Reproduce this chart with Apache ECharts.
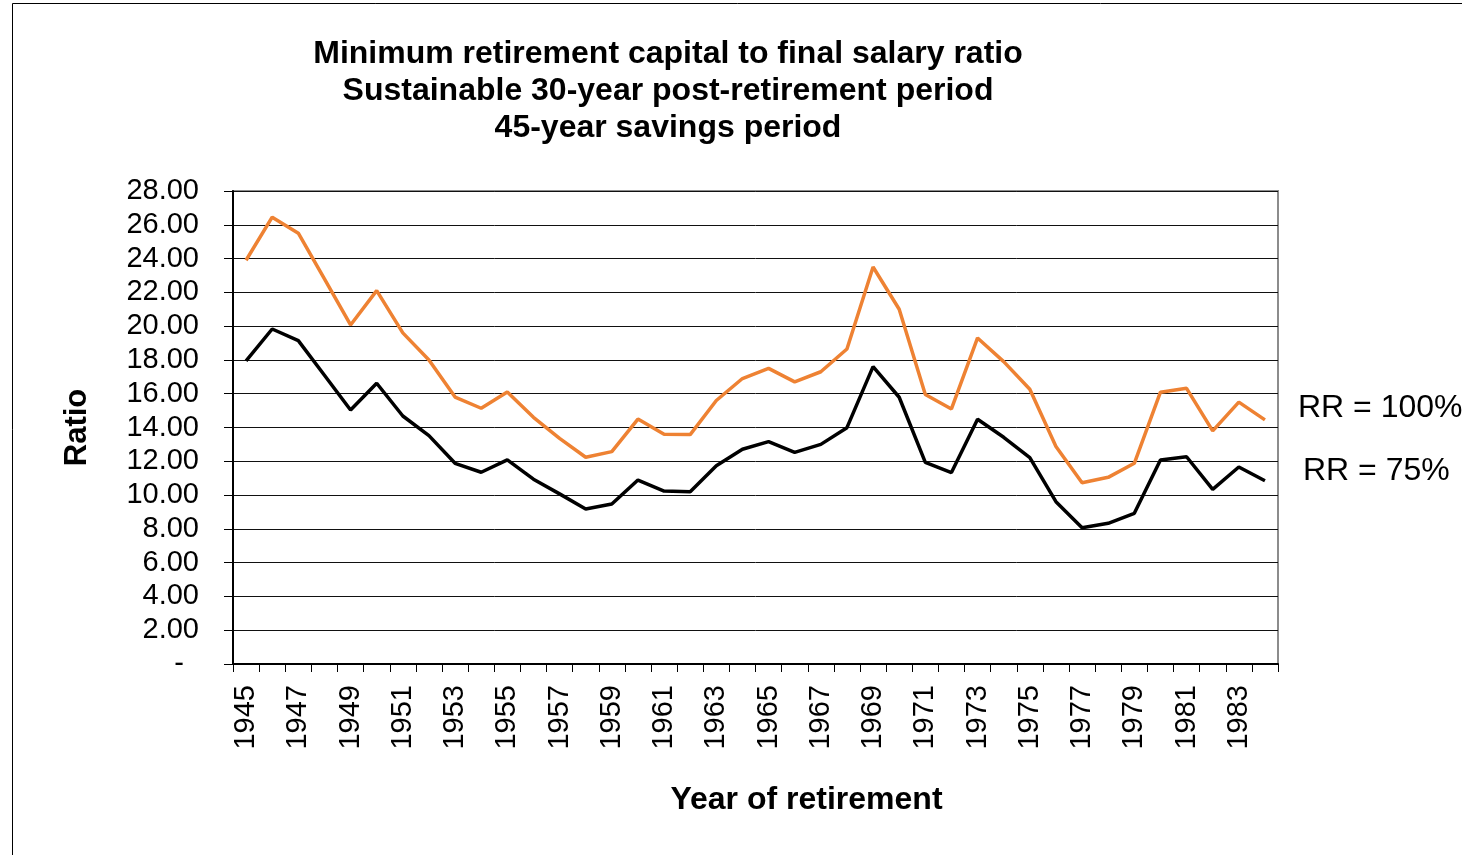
<!DOCTYPE html>
<html>
<head>
<meta charset="utf-8">
<script src="https://cdn.jsdelivr.net/npm/echarts@6/dist/echarts.min.js"></script>
<style>
  html, body { margin: 0; padding: 0; background: #fff; }
  #main { width: 1462px; height: 855px; }
</style>
</head>
<body>
<div id="main"></div>
<script>
var years = [];
for (var y = 1945; y <= 1984; y++) years.push(String(y));

// RR = 100%
var rr100 = [23.9, 26.45, 25.5, 22.8, 20.07, 22.1, 19.6, 18.0, 15.8, 15.14,
             16.1, 14.6, 13.36, 12.24, 12.57, 14.5, 13.6, 13.58, 15.6, 16.9,
             17.5, 16.7, 17.3, 18.65, 23.5, 21.0, 15.95, 15.1, 19.3, 17.9,
             16.26, 12.87, 10.73, 11.05, 11.88, 16.09, 16.32, 13.8, 15.5, 14.45];
// RR = 75%
var rr75 = [17.94, 19.83, 19.14, 17.09, 15.04, 16.62, 14.68, 13.52, 11.88, 11.35,
            12.08, 10.94, 10.07, 9.18, 9.47, 10.89, 10.24, 10.2, 11.74, 12.71,
            13.16, 12.53, 13.0, 13.99, 17.6, 15.79, 11.93, 11.33, 14.49, 13.42,
            12.22, 9.61, 8.07, 8.33, 8.92, 12.08, 12.27, 10.34, 11.66, 10.85];

var titleLines = ['Minimum retirement capital to final salary ratio',
                  'Sustainable 30-year post-retirement period',
                  '45-year savings period'];

var font = 'Liberation Sans, Arial, sans-serif';
var myChart = echarts.init(document.getElementById('main'));

var option = {
  animation: false,
  textStyle: { fontFamily: font },
  title: {
    text: titleLines.join('\n'),
    left: 668,
    top: 36,
    padding: 0,
    textAlign: 'center',
    textStyle: { fontSize: 32, fontWeight: 'bold', color: '#000', lineHeight: 37, fontFamily: font }
  },
  grid: {
    left: 233, right: 184, top: 191, bottom: 191,
    show: true, borderColor: '#8c8c8c', borderWidth: 2
  },
  graphic: [
    { type: 'rect', shape: { x: 12.5, y: 3.5, width: 1500, height: 900 },
      style: { fill: 'none', stroke: '#000', lineWidth: 1 } },
    { type: 'text', left: 1298, top: 392,
      style: { text: 'RR = 100%', fill: '#000', font: '32px ' + font } },
    { type: 'text', left: 1303, top: 455,
      style: { text: 'RR = 75%', fill: '#000', font: '32px ' + font } }
  ],
  xAxis: {
    type: 'category',
    data: years,
    boundaryGap: true,
    name: 'Year of retirement',
    nameLocation: 'middle',
    nameGap: 120,
    nameTextStyle: { fontSize: 32, fontWeight: 'bold', color: '#000', padding: [0, 0, 0, 102] },
    axisLine: { lineStyle: { color: '#000', width: 2 } },
    axisTick: { show: true, interval: 0, length: 8, lineStyle: { color: '#000' } },
    axisLabel: { interval: 1, rotate: 90, fontSize: 29, color: '#000', margin: 21 },
    splitLine: { show: false }
  },
  yAxis: {
    type: 'value',
    min: 0, max: 28, interval: 2,
    name: 'Ratio',
    nameLocation: 'middle',
    nameRotate: 90,
    nameGap: 140,
    nameTextStyle: { fontSize: 31, fontWeight: 'bold', color: '#000' },
    axisLine: { show: true, lineStyle: { color: '#000', width: 2 } },
    axisTick: { show: true, length: 9, lineStyle: { color: '#000' } },
    axisLabel: {
      fontSize: 29, color: '#000', margin: 34,
      formatter: function (v) { return v === 0 ? '{d|-}' : v.toFixed(2); },
      rich: { d: { fontSize: 29, color: '#000', padding: [0, 15, 0, 0] } }
    },
    splitLine: { show: true, lineStyle: { color: '#111', width: 1 } }
  },
  series: [
    { name: 'RR = 75%', type: 'line', data: rr75, symbol: 'none',
      lineStyle: { color: '#000', width: 3.5 }, itemStyle: { color: '#000' } },
    { name: 'RR = 100%', type: 'line', data: rr100, symbol: 'none',
      lineStyle: { color: '#EE8233', width: 3.5 }, itemStyle: { color: '#EE8233' } }
  ]
};

myChart.setOption(option);
window.addEventListener('resize', function () { myChart.resize(); });
</script>
</body>
</html>
